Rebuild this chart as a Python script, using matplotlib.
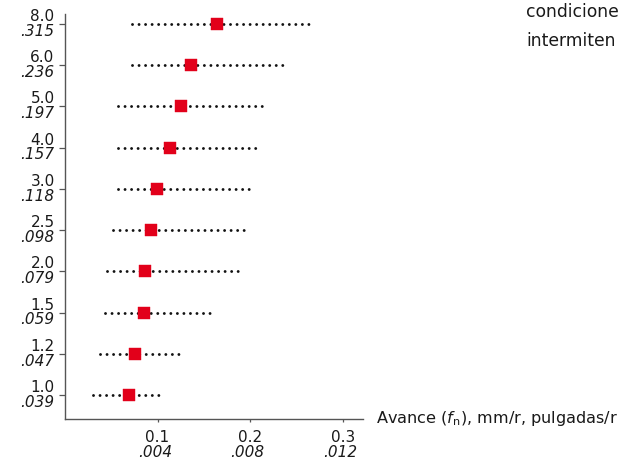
import matplotlib
matplotlib.use("Agg")
import matplotlib.pyplot as plt
import matplotlib.transforms as mtransforms

# Depth of cut (mm / inch) and feed range (mm/r): minimum, recommended, maximum
depth_mm = ["1.0", "1.2", "1.5", "2.0", "2.5", "3.0", "4.0", "5.0", "6.0", "8.0"]
depth_in = [".039", ".047", ".059", ".079", ".098", ".118", ".157", ".197", ".236", ".315"]
feed_min = [0.030, 0.038, 0.043, 0.045, 0.052, 0.057, 0.057, 0.057, 0.072, 0.072]
feed_rec = [0.069, 0.076, 0.085, 0.086, 0.093, 0.099, 0.113, 0.125, 0.136, 0.164]
feed_max = [0.104, 0.125, 0.159, 0.189, 0.197, 0.201, 0.209, 0.215, 0.237, 0.265]

feed_ticks = [0.1, 0.2, 0.3]
feed_mm_labels = ["0.1", "0.2", "0.3"]
feed_in_labels = [".004", ".008", ".012"]

W, H = 619, 462
fig = plt.figure(figsize=(W / 100, H / 100), dpi=100)
ax = fig.add_axes([65 / W, 1 - 419 / H, (363 - 65) / W, (419 - 14) / H])

RED = "#e2001a"
DOT = "#111111"
AXC = "#555555"
TXT = "#1a1a1a"

rows = list(range(len(depth_mm)))
for y, lo, hi in zip(rows, feed_min, feed_max):
    ax.plot([lo, hi], [y, y], color=DOT, lw=2.1,
            linestyle=(0, (0.01, 2.23)), dash_capstyle="round", zorder=2)
ax.plot(feed_rec, rows, "s", ms=8.3, color=RED, mec=RED, mew=0.3, zorder=3)

ax.set_xlim(0, 0.322)
ax.set_ylim(-0.58, 9.24)

for side in ("top", "right"):
    ax.spines[side].set_visible(False)
for side in ("left", "bottom"):
    ax.spines[side].set_color(AXC)
    ax.spines[side].set_linewidth(1.0)

ax.set_yticks(rows)
ax.set_yticklabels([])
ax.tick_params(axis="y", direction="out", length=4.5, width=0.9, color=AXC)
ax.set_xticks(feed_ticks)
ax.set_xticklabels([])
ax.tick_params(axis="x", direction="out", length=2.2, width=0.9, color=AXC)

# Two-line tick labels: metric upright, inch italic
ytr = mtransforms.blended_transform_factory(ax.transAxes, ax.transData)
for y, mm, inch in zip(rows, depth_mm, depth_in):
    ax.annotate(mm, xy=(0, y), xycoords=ytr, xytext=(-7.5, 5.4),
                textcoords="offset points", ha="right", va="center",
                fontsize=11, color=TXT)
    ax.annotate(inch, xy=(0, y), xycoords=ytr, xytext=(-8, -5.2),
                textcoords="offset points", ha="right", va="center",
                fontsize=11, style="italic", color=TXT)

xtr = mtransforms.blended_transform_factory(ax.transData, ax.transAxes)
for x, mm, inch in zip(feed_ticks, feed_mm_labels, feed_in_labels):
    ax.annotate(mm, xy=(x, 0), xycoords=xtr, xytext=(0, -13),
                textcoords="offset points", ha="center", va="center",
                fontsize=11, color=TXT)
    ax.annotate(inch, xy=(x, 0), xycoords=xtr, xytext=(-2, -24),
                textcoords="offset points", ha="center", va="center",
                fontsize=11, style="italic", color=TXT)

fig.text(376 / W, 1 - 423 / H, r"Avance ($f_\mathrm{n}$), mm/r, pulgadas/r",
         ha="left", va="baseline", fontsize=11.6, color=TXT)

fig.text(526 / W, 1 - 17 / H, "condicione", ha="left", va="baseline",
         fontsize=12.3, color=TXT)
fig.text(526 / W, 1 - 46 / H, "intermiten", ha="left", va="baseline",
         fontsize=12.3, color=TXT)

fig.savefig("out.png", dpi=100)
